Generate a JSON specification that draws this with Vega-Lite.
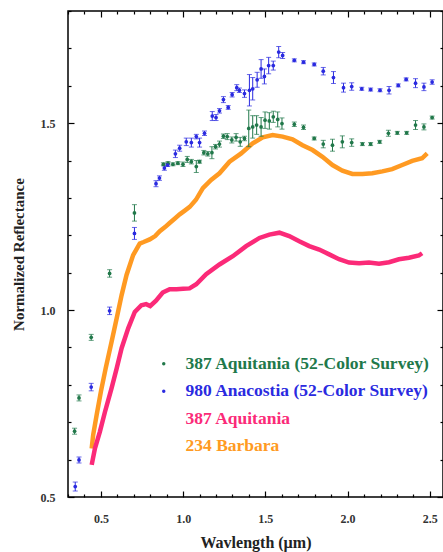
{
  "$schema": "https://vega.github.io/schema/vega-lite/v6.json",
  "width": 375,
  "height": 486,
  "autosize": "none",
  "padding": {"left": 68, "top": 11, "right": 0, "bottom": 55},
  "background": "white",
  "config": {
    "view": {"stroke": "black", "strokeWidth": 1.5},
    "font": "Liberation Serif"
  },
  "datasets": {
    "survey": [
      {"s": "387 Aquitania (52-Color Survey)", "w": 0.340, "r": 0.676, "e": 0.008},
      {"s": "387 Aquitania (52-Color Survey)", "w": 0.367, "r": 0.765, "e": 0.008},
      {"s": "387 Aquitania (52-Color Survey)", "w": 0.441, "r": 0.927, "e": 0.008},
      {"s": "387 Aquitania (52-Color Survey)", "w": 0.553, "r": 1.098, "e": 0.010},
      {"s": "387 Aquitania (52-Color Survey)", "w": 0.704, "r": 1.260, "e": 0.022},
      {"s": "387 Aquitania (52-Color Survey)", "w": 0.880, "r": 1.390, "e": 0.004},
      {"s": "387 Aquitania (52-Color Survey)", "w": 0.908, "r": 1.393, "e": 0.004},
      {"s": "387 Aquitania (52-Color Survey)", "w": 0.938, "r": 1.390, "e": 0.004},
      {"s": "387 Aquitania (52-Color Survey)", "w": 0.968, "r": 1.393, "e": 0.004},
      {"s": "387 Aquitania (52-Color Survey)", "w": 0.999, "r": 1.390, "e": 0.006},
      {"s": "387 Aquitania (52-Color Survey)", "w": 1.025, "r": 1.403, "e": 0.008},
      {"s": "387 Aquitania (52-Color Survey)", "w": 1.050, "r": 1.397, "e": 0.006},
      {"s": "387 Aquitania (52-Color Survey)", "w": 1.080, "r": 1.384, "e": 0.016},
      {"s": "387 Aquitania (52-Color Survey)", "w": 1.100, "r": 1.397, "e": 0.004},
      {"s": "387 Aquitania (52-Color Survey)", "w": 1.126, "r": 1.421, "e": 0.006},
      {"s": "387 Aquitania (52-Color Survey)", "w": 1.150, "r": 1.418, "e": 0.006},
      {"s": "387 Aquitania (52-Color Survey)", "w": 1.175, "r": 1.421, "e": 0.016},
      {"s": "387 Aquitania (52-Color Survey)", "w": 1.197, "r": 1.437, "e": 0.006},
      {"s": "387 Aquitania (52-Color Survey)", "w": 1.221, "r": 1.444, "e": 0.008},
      {"s": "387 Aquitania (52-Color Survey)", "w": 1.245, "r": 1.465, "e": 0.006},
      {"s": "387 Aquitania (52-Color Survey)", "w": 1.268, "r": 1.464, "e": 0.008},
      {"s": "387 Aquitania (52-Color Survey)", "w": 1.296, "r": 1.455, "e": 0.008},
      {"s": "387 Aquitania (52-Color Survey)", "w": 1.322, "r": 1.462, "e": 0.010},
      {"s": "387 Aquitania (52-Color Survey)", "w": 1.347, "r": 1.450, "e": 0.012},
      {"s": "387 Aquitania (52-Color Survey)", "w": 1.373, "r": 1.459, "e": 0.006},
      {"s": "387 Aquitania (52-Color Survey)", "w": 1.399, "r": 1.486, "e": 0.049},
      {"s": "387 Aquitania (52-Color Survey)", "w": 1.423, "r": 1.490, "e": 0.030},
      {"s": "387 Aquitania (52-Color Survey)", "w": 1.447, "r": 1.495, "e": 0.025},
      {"s": "387 Aquitania (52-Color Survey)", "w": 1.474, "r": 1.490, "e": 0.025},
      {"s": "387 Aquitania (52-Color Survey)", "w": 1.498, "r": 1.508, "e": 0.022},
      {"s": "387 Aquitania (52-Color Survey)", "w": 1.524, "r": 1.506, "e": 0.022},
      {"s": "387 Aquitania (52-Color Survey)", "w": 1.548, "r": 1.517, "e": 0.015},
      {"s": "387 Aquitania (52-Color Survey)", "w": 1.575, "r": 1.510, "e": 0.020},
      {"s": "387 Aquitania (52-Color Survey)", "w": 1.601, "r": 1.499, "e": 0.015},
      {"s": "387 Aquitania (52-Color Survey)", "w": 1.676, "r": 1.497, "e": 0.006},
      {"s": "387 Aquitania (52-Color Survey)", "w": 1.732, "r": 1.489, "e": 0.006},
      {"s": "387 Aquitania (52-Color Survey)", "w": 1.797, "r": 1.459, "e": 0.004},
      {"s": "387 Aquitania (52-Color Survey)", "w": 1.852, "r": 1.444, "e": 0.010},
      {"s": "387 Aquitania (52-Color Survey)", "w": 1.908, "r": 1.441, "e": 0.016},
      {"s": "387 Aquitania (52-Color Survey)", "w": 1.968, "r": 1.450, "e": 0.016},
      {"s": "387 Aquitania (52-Color Survey)", "w": 2.025, "r": 1.448, "e": 0.010},
      {"s": "387 Aquitania (52-Color Survey)", "w": 2.090, "r": 1.444, "e": 0.004},
      {"s": "387 Aquitania (52-Color Survey)", "w": 2.140, "r": 1.444, "e": 0.004},
      {"s": "387 Aquitania (52-Color Survey)", "w": 2.195, "r": 1.450, "e": 0.004},
      {"s": "387 Aquitania (52-Color Survey)", "w": 2.248, "r": 1.473, "e": 0.008},
      {"s": "387 Aquitania (52-Color Survey)", "w": 2.302, "r": 1.474, "e": 0.004},
      {"s": "387 Aquitania (52-Color Survey)", "w": 2.359, "r": 1.474, "e": 0.004},
      {"s": "387 Aquitania (52-Color Survey)", "w": 2.413, "r": 1.495, "e": 0.012},
      {"s": "387 Aquitania (52-Color Survey)", "w": 2.464, "r": 1.490, "e": 0.008},
      {"s": "387 Aquitania (52-Color Survey)", "w": 2.514, "r": 1.515, "e": 0.004},
      {"s": "980 Anacostia (52-Color Survey)", "w": 0.344, "r": 0.528, "e": 0.012},
      {"s": "980 Anacostia (52-Color Survey)", "w": 0.367, "r": 0.599, "e": 0.008},
      {"s": "980 Anacostia (52-Color Survey)", "w": 0.441, "r": 0.794, "e": 0.010},
      {"s": "980 Anacostia (52-Color Survey)", "w": 0.553, "r": 0.998, "e": 0.010},
      {"s": "980 Anacostia (52-Color Survey)", "w": 0.704, "r": 1.205, "e": 0.016},
      {"s": "980 Anacostia (52-Color Survey)", "w": 0.835, "r": 1.338, "e": 0.008},
      {"s": "980 Anacostia (52-Color Survey)", "w": 0.856, "r": 1.353, "e": 0.006},
      {"s": "980 Anacostia (52-Color Survey)", "w": 0.886, "r": 1.380, "e": 0.006},
      {"s": "980 Anacostia (52-Color Survey)", "w": 0.906, "r": 1.388, "e": 0.004},
      {"s": "980 Anacostia (52-Color Survey)", "w": 0.953, "r": 1.418, "e": 0.010},
      {"s": "980 Anacostia (52-Color Survey)", "w": 0.979, "r": 1.433, "e": 0.008},
      {"s": "980 Anacostia (52-Color Survey)", "w": 1.019, "r": 1.450, "e": 0.010},
      {"s": "980 Anacostia (52-Color Survey)", "w": 1.050, "r": 1.448, "e": 0.012},
      {"s": "980 Anacostia (52-Color Survey)", "w": 1.080, "r": 1.464, "e": 0.006},
      {"s": "980 Anacostia (52-Color Survey)", "w": 1.100, "r": 1.448, "e": 0.012},
      {"s": "980 Anacostia (52-Color Survey)", "w": 1.130, "r": 1.473, "e": 0.006},
      {"s": "980 Anacostia (52-Color Survey)", "w": 1.177, "r": 1.519, "e": 0.012},
      {"s": "980 Anacostia (52-Color Survey)", "w": 1.200, "r": 1.515, "e": 0.008},
      {"s": "980 Anacostia (52-Color Survey)", "w": 1.221, "r": 1.533, "e": 0.006},
      {"s": "980 Anacostia (52-Color Survey)", "w": 1.245, "r": 1.563, "e": 0.008},
      {"s": "980 Anacostia (52-Color Survey)", "w": 1.274, "r": 1.542, "e": 0.005},
      {"s": "980 Anacostia (52-Color Survey)", "w": 1.298, "r": 1.576, "e": 0.006},
      {"s": "980 Anacostia (52-Color Survey)", "w": 1.326, "r": 1.595, "e": 0.008},
      {"s": "980 Anacostia (52-Color Survey)", "w": 1.342, "r": 1.588, "e": 0.006},
      {"s": "980 Anacostia (52-Color Survey)", "w": 1.373, "r": 1.579, "e": 0.010},
      {"s": "980 Anacostia (52-Color Survey)", "w": 1.403, "r": 1.588, "e": 0.042},
      {"s": "980 Anacostia (52-Color Survey)", "w": 1.423, "r": 1.592, "e": 0.030},
      {"s": "980 Anacostia (52-Color Survey)", "w": 1.450, "r": 1.616, "e": 0.020},
      {"s": "980 Anacostia (52-Color Survey)", "w": 1.474, "r": 1.645, "e": 0.025},
      {"s": "980 Anacostia (52-Color Survey)", "w": 1.494, "r": 1.625, "e": 0.020},
      {"s": "980 Anacostia (52-Color Survey)", "w": 1.520, "r": 1.654, "e": 0.022},
      {"s": "980 Anacostia (52-Color Survey)", "w": 1.548, "r": 1.654, "e": 0.012},
      {"s": "980 Anacostia (52-Color Survey)", "w": 1.581, "r": 1.690, "e": 0.015},
      {"s": "980 Anacostia (52-Color Survey)", "w": 1.605, "r": 1.681, "e": 0.008},
      {"s": "980 Anacostia (52-Color Survey)", "w": 1.676, "r": 1.668, "e": 0.004},
      {"s": "980 Anacostia (52-Color Survey)", "w": 1.732, "r": 1.663, "e": 0.004},
      {"s": "980 Anacostia (52-Color Survey)", "w": 1.797, "r": 1.657, "e": 0.004},
      {"s": "980 Anacostia (52-Color Survey)", "w": 1.852, "r": 1.639, "e": 0.010},
      {"s": "980 Anacostia (52-Color Survey)", "w": 1.914, "r": 1.622, "e": 0.016},
      {"s": "980 Anacostia (52-Color Survey)", "w": 1.975, "r": 1.595, "e": 0.012},
      {"s": "980 Anacostia (52-Color Survey)", "w": 2.025, "r": 1.598, "e": 0.010},
      {"s": "980 Anacostia (52-Color Survey)", "w": 2.086, "r": 1.592, "e": 0.004},
      {"s": "980 Anacostia (52-Color Survey)", "w": 2.140, "r": 1.590, "e": 0.004},
      {"s": "980 Anacostia (52-Color Survey)", "w": 2.197, "r": 1.588, "e": 0.004},
      {"s": "980 Anacostia (52-Color Survey)", "w": 2.252, "r": 1.588, "e": 0.010},
      {"s": "980 Anacostia (52-Color Survey)", "w": 2.308, "r": 1.601, "e": 0.004},
      {"s": "980 Anacostia (52-Color Survey)", "w": 2.356, "r": 1.617, "e": 0.004},
      {"s": "980 Anacostia (52-Color Survey)", "w": 2.413, "r": 1.607, "e": 0.012},
      {"s": "980 Anacostia (52-Color Survey)", "w": 2.464, "r": 1.597, "e": 0.010},
      {"s": "980 Anacostia (52-Color Survey)", "w": 2.514, "r": 1.610, "e": 0.006}
    ],
    "spectra": [
      {"s": "234 Barbara", "w": 0.444, "r": 0.630},
      {"s": "234 Barbara", "w": 0.453, "r": 0.666},
      {"s": "234 Barbara", "w": 0.474, "r": 0.719},
      {"s": "234 Barbara", "w": 0.500, "r": 0.782},
      {"s": "234 Barbara", "w": 0.529, "r": 0.844},
      {"s": "234 Barbara", "w": 0.565, "r": 0.915},
      {"s": "234 Barbara", "w": 0.596, "r": 0.978},
      {"s": "234 Barbara", "w": 0.626, "r": 1.040},
      {"s": "234 Barbara", "w": 0.656, "r": 1.094},
      {"s": "234 Barbara", "w": 0.696, "r": 1.147},
      {"s": "234 Barbara", "w": 0.736, "r": 1.178},
      {"s": "234 Barbara", "w": 0.760, "r": 1.182},
      {"s": "234 Barbara", "w": 0.797, "r": 1.189},
      {"s": "234 Barbara", "w": 0.830, "r": 1.198},
      {"s": "234 Barbara", "w": 0.858, "r": 1.211},
      {"s": "234 Barbara", "w": 0.890, "r": 1.222},
      {"s": "234 Barbara", "w": 0.918, "r": 1.233},
      {"s": "234 Barbara", "w": 0.950, "r": 1.245},
      {"s": "234 Barbara", "w": 0.979, "r": 1.256},
      {"s": "234 Barbara", "w": 1.010, "r": 1.266},
      {"s": "234 Barbara", "w": 1.040, "r": 1.276},
      {"s": "234 Barbara", "w": 1.078, "r": 1.295},
      {"s": "234 Barbara", "w": 1.120, "r": 1.326},
      {"s": "234 Barbara", "w": 1.170, "r": 1.348},
      {"s": "234 Barbara", "w": 1.221, "r": 1.366},
      {"s": "234 Barbara", "w": 1.282, "r": 1.397},
      {"s": "234 Barbara", "w": 1.353, "r": 1.419},
      {"s": "234 Barbara", "w": 1.423, "r": 1.446},
      {"s": "234 Barbara", "w": 1.484, "r": 1.462},
      {"s": "234 Barbara", "w": 1.544, "r": 1.468},
      {"s": "234 Barbara", "w": 1.605, "r": 1.464},
      {"s": "234 Barbara", "w": 1.665, "r": 1.457},
      {"s": "234 Barbara", "w": 1.726, "r": 1.441},
      {"s": "234 Barbara", "w": 1.787, "r": 1.428},
      {"s": "234 Barbara", "w": 1.847, "r": 1.410},
      {"s": "234 Barbara", "w": 1.908, "r": 1.388},
      {"s": "234 Barbara", "w": 1.968, "r": 1.373},
      {"s": "234 Barbara", "w": 2.029, "r": 1.364},
      {"s": "234 Barbara", "w": 2.090, "r": 1.364},
      {"s": "234 Barbara", "w": 2.150, "r": 1.366},
      {"s": "234 Barbara", "w": 2.211, "r": 1.371},
      {"s": "234 Barbara", "w": 2.271, "r": 1.377},
      {"s": "234 Barbara", "w": 2.332, "r": 1.388},
      {"s": "234 Barbara", "w": 2.393, "r": 1.399},
      {"s": "234 Barbara", "w": 2.453, "r": 1.406},
      {"s": "234 Barbara", "w": 2.484, "r": 1.419},
      {"s": "387 Aquitania", "w": 0.444, "r": 0.586},
      {"s": "387 Aquitania", "w": 0.464, "r": 0.630},
      {"s": "387 Aquitania", "w": 0.494, "r": 0.675},
      {"s": "387 Aquitania", "w": 0.525, "r": 0.728},
      {"s": "387 Aquitania", "w": 0.565, "r": 0.791},
      {"s": "387 Aquitania", "w": 0.596, "r": 0.844},
      {"s": "387 Aquitania", "w": 0.626, "r": 0.898},
      {"s": "387 Aquitania", "w": 0.666, "r": 0.951},
      {"s": "387 Aquitania", "w": 0.706, "r": 0.995},
      {"s": "387 Aquitania", "w": 0.746, "r": 1.013},
      {"s": "387 Aquitania", "w": 0.775, "r": 1.016},
      {"s": "387 Aquitania", "w": 0.800, "r": 1.011},
      {"s": "387 Aquitania", "w": 0.835, "r": 1.025},
      {"s": "387 Aquitania", "w": 0.876, "r": 1.047},
      {"s": "387 Aquitania", "w": 0.918, "r": 1.056},
      {"s": "387 Aquitania", "w": 0.960, "r": 1.056},
      {"s": "387 Aquitania", "w": 1.000, "r": 1.057},
      {"s": "387 Aquitania", "w": 1.039, "r": 1.058},
      {"s": "387 Aquitania", "w": 1.080, "r": 1.069},
      {"s": "387 Aquitania", "w": 1.140, "r": 1.096},
      {"s": "387 Aquitania", "w": 1.221, "r": 1.122},
      {"s": "387 Aquitania", "w": 1.302, "r": 1.144},
      {"s": "387 Aquitania", "w": 1.383, "r": 1.171},
      {"s": "387 Aquitania", "w": 1.464, "r": 1.193},
      {"s": "387 Aquitania", "w": 1.524, "r": 1.202},
      {"s": "387 Aquitania", "w": 1.585, "r": 1.207},
      {"s": "387 Aquitania", "w": 1.645, "r": 1.198},
      {"s": "387 Aquitania", "w": 1.706, "r": 1.184},
      {"s": "387 Aquitania", "w": 1.767, "r": 1.171},
      {"s": "387 Aquitania", "w": 1.827, "r": 1.162},
      {"s": "387 Aquitania", "w": 1.888, "r": 1.149},
      {"s": "387 Aquitania", "w": 1.948, "r": 1.136},
      {"s": "387 Aquitania", "w": 2.009, "r": 1.127},
      {"s": "387 Aquitania", "w": 2.070, "r": 1.125},
      {"s": "387 Aquitania", "w": 2.130, "r": 1.127},
      {"s": "387 Aquitania", "w": 2.191, "r": 1.124},
      {"s": "387 Aquitania", "w": 2.252, "r": 1.128},
      {"s": "387 Aquitania", "w": 2.312, "r": 1.136},
      {"s": "387 Aquitania", "w": 2.373, "r": 1.140},
      {"s": "387 Aquitania", "w": 2.433, "r": 1.146},
      {"s": "387 Aquitania", "w": 2.453, "r": 1.152}
    ]
  },
  "layer": [
    {
      "data": {"name": "spectra"},
      "mark": {"type": "line", "strokeWidth": 4.5},
      "encoding": {
        "x": {
          "field": "w", "type": "quantitative",
          "scale": {"domain": [0.3, 2.58], "nice": false, "zero": false},
          "axis": {
            "orient": "bottom",
            "values": [0.3,0.4,0.5,0.6,0.7,0.8,0.9,1.0,1.1,1.2,1.3,1.4,1.5,1.6,1.7,1.8,1.9,2.0,2.1,2.2,2.3,2.4,2.5],
            "labelExpr": "round(datum.value*10) % 5 == 0 ? format(datum.value, '.1f') : ''",
            "tickSize": {"condition": {"test": "round(datum.value*10) % 5 == 0", "value": -6}, "value": -3},
            "tickColor": "black", "tickWidth": 1.2,
            "domain": false, "grid": false,
            "labelFont": "Liberation Serif", "labelFontSize": 12, "labelFontWeight": "bold", "labelColor": "#333333",
            "labelPadding": 22, "labelFlush": false,
            "title": "Wavlength (µm)",
            "titleFont": "Liberation Serif", "titleFontSize": 16, "titleFontWeight": "bold", "titleColor": "#222222",
            "titlePadding": 10
          }
        },
        "y": {
          "field": "r", "type": "quantitative",
          "scale": {"domain": [0.5, 1.8], "nice": false, "zero": false},
          "axis": {
            "orient": "left",
            "values": [0.5,0.6,0.7,0.8,0.9,1.0,1.1,1.2,1.3,1.4,1.5,1.6,1.7,1.8],
            "labelExpr": "round(datum.value*10) % 5 == 0 ? format(datum.value, '.1f') : ''",
            "tickSize": {"condition": {"test": "round(datum.value*10) % 5 == 0", "value": -6}, "value": -3},
            "tickColor": "black", "tickWidth": 1.2,
            "domain": false, "grid": false,
            "labelFont": "Liberation Serif", "labelFontSize": 12, "labelFontWeight": "bold", "labelColor": "#333333",
            "labelPadding": 19, "labelFlush": false,
            "title": "Normalized Reflectance",
            "titleFont": "Liberation Serif", "titleFontSize": 15, "titleFontWeight": "bold", "titleColor": "#222222",
            "titlePadding": 14
          }
        },
        "color": {
          "field": "s", "type": "nominal",
          "scale": {
            "domain": ["387 Aquitania (52-Color Survey)", "980 Anacostia (52-Color Survey)", "387 Aquitania", "234 Barbara"],
            "range": ["#21784a", "#2a2ae0", "#fb2a78", "#ff9a22"]
          },
          "legend": {
            "orient": "none", "legendX": 87, "legendY": 344,
            "title": null,
            "labelFont": "Liberation Serif", "labelFontSize": 17.5, "labelFontWeight": "bold", "labelLimit": 0,
            "symbolType": "circle", "symbolSize": 12, "symbolStrokeWidth": 0,
            "rowPadding": 8.5, "labelOffset": 13,
            "encode": {
              "labels": {"update": {"fill": {"scale": "color", "field": "value"}}},
              "symbols": {"update": {
                "fill": {"scale": "color", "field": "value"},
                "opacity": {"signal": "datum.value === '387 Aquitania' || datum.value === '234 Barbara' ? 0 : 1"}
              }}
            }
          }
        }
      }
    },
    {
      "data": {"name": "survey"},
      "mark": {"type": "errorbar", "ticks": {"size": 5, "thickness": 1}, "thickness": 1},
      "encoding": {
        "x": {
          "field": "w", "type": "quantitative",
          "axis": {
            "orient": "top",
            "values": [0.3,0.4,0.5,0.6,0.7,0.8,0.9,1.0,1.1,1.2,1.3,1.4,1.5,1.6,1.7,1.8,1.9,2.0,2.1,2.2,2.3,2.4,2.5],
            "labels": false,
            "tickSize": {"condition": {"test": "round(datum.value*10) % 5 == 0", "value": -6}, "value": -3},
            "tickColor": "black", "tickWidth": 1.2,
            "domain": false, "grid": false, "title": null
          }
        },
        "y": {
          "field": "r", "type": "quantitative",
          "axis": {
            "orient": "right",
            "values": [0.5,0.6,0.7,0.8,0.9,1.0,1.1,1.2,1.3,1.4,1.5,1.6,1.7,1.8],
            "labels": false,
            "tickSize": {"condition": {"test": "round(datum.value*10) % 5 == 0", "value": -6}, "value": -3},
            "tickColor": "black", "tickWidth": 1.2,
            "domain": false, "grid": false, "title": null
          }
        },
        "yError": {"field": "e"},
        "color": {"field": "s", "type": "nominal"}
      }
    },
    {
      "data": {"name": "survey"},
      "mark": {"type": "point", "filled": true, "size": 14, "opacity": 1},
      "encoding": {
        "x": {"field": "w", "type": "quantitative", "axis": null},
        "y": {"field": "r", "type": "quantitative", "axis": null},
        "color": {"field": "s", "type": "nominal"}
      }
    }
  ],
  "resolve": {"axis": {"x": "independent", "y": "independent"}}
}
